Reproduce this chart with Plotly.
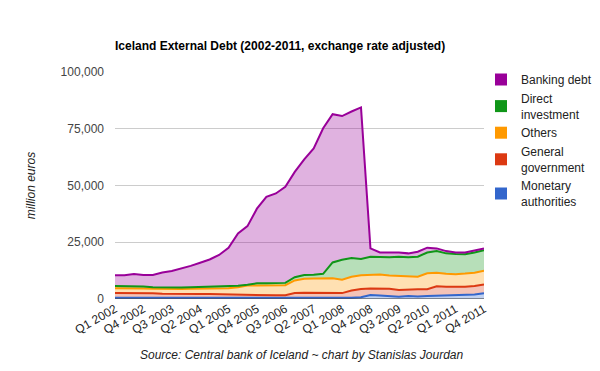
import plotly.graph_objects as go

quarters = [f"Q{q} {y}" for y in range(2002, 2012) for q in range(1, 5)]
tick_labels = quarters[::3]

# cumulative tops (thousand EUR millions)
top_total = [10.5, 10.5, 11.0, 10.6, 10.6, 11.7, 12.3, 13.4, 14.6, 16.0,
             17.4, 19.4, 22.6, 28.9, 32.1, 39.8, 45.0, 46.5, 49.4, 56.0,
             61.5, 66.3, 75.2, 81.4, 80.6, 82.6, 84.4, 22.3, 20.5, 20.5,
             20.5, 20.1, 20.8, 22.6, 22.3, 21.1, 20.5, 20.5, 21.5, 22.3]
top_direct = [5.7, 5.6, 5.8, 5.5, 5.2, 5.1, 5.1, 5.1, 5.2, 5.3,
              5.2, 5.3, 5.4, 5.8, 6.3, 6.9, 6.9, 6.9, 7.1, 9.6,
              10.6, 10.7, 11.1, 16.1, 17.3, 18.1, 17.6, 18.6, 18.4, 18.4,
              18.6, 18.4, 18.6, 20.5, 21.1, 20.1, 19.8, 19.7, 20.5, 21.5]
top_others = [4.7, 4.7, 4.9, 4.6, 4.5, 4.4, 4.4, 4.4, 4.5, 4.5,
              4.5, 4.6, 4.7, 5.2, 5.9, 5.9, 5.9, 5.9, 6.1, 8.2,
              8.9, 9.0, 9.2, 9.1, 8.5, 9.8, 10.5, 10.6, 10.8, 10.4,
              10.1, 10.0, 9.8, 11.3, 11.6, 11.1, 10.9, 11.2, 11.6, 12.4]
top_general = [2.6, 2.6, 2.8, 2.6, 2.5, 2.3, 2.2, 2.2, 2.2, 2.2,
               2.2, 2.1, 2.1, 1.9, 1.8, 1.7, 1.5, 1.6, 1.7, 2.6,
               2.7, 2.7, 2.7, 2.7, 2.6, 3.7, 4.4, 4.6, 4.6, 4.5,
               4.0, 4.3, 4.3, 4.3, 5.6, 5.4, 5.3, 5.4, 5.7, 6.4]
monetary = [0.6, 0.6, 0.6, 0.5, 0.5, 0.4, 0.4, 0.3, 0.3, 0.3,
            0.3, 0.3, 0.3, 0.3, 0.3, 0.3, 0.3, 0.3, 0.3, 0.3,
            0.3, 0.3, 0.3, 0.3, 0.3, 0.5, 0.8, 1.8, 1.5, 1.3,
            1.0, 1.3, 1.1, 1.3, 1.4, 1.5, 1.7, 1.8, 2.0, 2.5]

general = [g - m for g, m in zip(top_general, monetary)]
others = [o - g for o, g in zip(top_others, top_general)]
direct = [d - o for d, o in zip(top_direct, top_others)]
banking = [t - d for t, d in zip(top_total, top_direct)]

series = [
    ("Monetary<br>authorities", monetary, "#3366cc", "rgba(51,102,204,0.3)"),
    ("General<br>government", general, "#dc3912", "rgba(220,57,18,0.3)"),
    ("Others", others, "#ff9900", "rgba(255,153,0,0.3)"),
    ("Direct<br>investment", direct, "#109618", "rgba(16,150,24,0.3)"),
    ("Banking debt", banking, "#990099", "rgba(153,0,153,0.3)"),
]

# page body has an 8px margin, so the figure is sized/offset to fit the window
OFF = 8
W, H = 600 - 2 * OFF, 371 - 2 * OFF
PX0, PX1, PY0, PY1 = 115 - OFF, 484 - OFF, 72 - OFF, 299 - OFF  # plot area in figure px
L, R, T, B = PX0, W - PX1, PY0, H - PY1
pw, ph = PX1 - PX0, PY1 - PY0


def px_to_paper_x(px):
    return (px - OFF - PX0) / pw


def px_to_paper_y(py):
    return (PY1 - (py - OFF)) / ph


x = list(range(len(quarters)))
fig = go.Figure()
for name, vals, col, fill in series:
    fig.add_trace(go.Scatter(
        x=x, y=[v * 1000 for v in vals], name=name, mode="lines",
        stackgroup="one", line=dict(color=col, width=2), fillcolor=fill,
        showlegend=False, hoverinfo="skip"))
for name, vals, col, fill in reversed(series):
    fig.add_trace(go.Scatter(
        x=[None], y=[None], name=name, mode="markers",
        marker=dict(symbol="square", size=12, color=col), showlegend=True))

fig.update_layout(
    width=W, height=H,
    margin=dict(l=L, r=R, t=T, b=B, autoexpand=False),
    paper_bgcolor="white", plot_bgcolor="white",
    font=dict(family="Liberation Sans, Arial, sans-serif", size=12, color="#222"),
    title=dict(text="<b>Iceland External Debt (2002-2011, exchange rate adjusted)</b>",
               x=(115 - OFF) / W, xanchor="left", y=1 - (46 - OFF) / H, yanchor="middle",
               font=dict(size=12, color="#000")),
    legend=dict(x=px_to_paper_x(481), xanchor="left", y=px_to_paper_y(65), yanchor="top",
                bgcolor="rgba(0,0,0,0)",
                traceorder="normal", font=dict(size=12, color="#222"),
                itemsizing="constant"),
    xaxis=dict(range=[0, 39], tickmode="array", tickvals=x[::3], ticktext=tick_labels,
               tickangle=-30, showgrid=False, zeroline=False, showline=False,
               ticks="", tickfont=dict(size=12, color="#222")),
    yaxis=dict(range=[0, 100000], tickvals=[0, 25000, 50000, 75000, 100000],
               tickformat=",d", showgrid=True, gridcolor="#cccccc", zeroline=False,
               tickfont=dict(size=12, color="#444"), ticks="", ticklabelstandoff=10,
               title=dict(text="<i>million euros</i>", font=dict(size=12, color="#222"),
                          standoff=22)),
    annotations=[dict(text="<i>Source: Central bank of Iceland ~ chart by Stanislas Jourdan</i>",
                      xref="paper", yref="paper", x=px_to_paper_x(302),
                      y=px_to_paper_y(355),
                      xanchor="center", yanchor="middle", showarrow=False,
                      font=dict(size=12, color="#222"))],
    shapes=[dict(type="line", xref="x", yref="y", x0=0, x1=39, y0=0, y1=0,
                 line=dict(color="#333", width=1))],
)
fig.write_html("out.html")
